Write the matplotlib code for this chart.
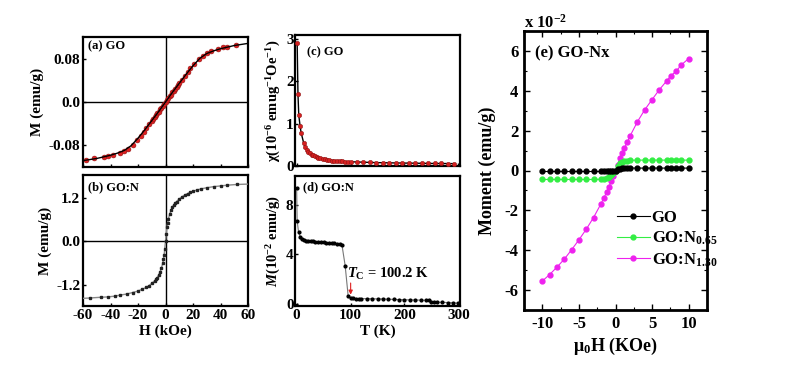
import matplotlib
matplotlib.use("Agg")
import matplotlib.pyplot as plt
from matplotlib.ticker import MultipleLocator

plt.rcParams['font.family'] = ['Liberation Serif', 'DejaVu Serif']
plt.rcParams['font.weight'] = 'bold'
plt.rcParams['axes.unicode_minus'] = False
plt.rcParams['mathtext.fontset'] = 'custom'
plt.rcParams['mathtext.rm'] = 'Liberation Serif:bold'
plt.rcParams['mathtext.it'] = 'Liberation Serif:italic:bold'
plt.rcParams['mathtext.bf'] = 'Liberation Serif:bold'

# (a) GO : M-H
H_a = [-58, -52, -45, -42, -38, -33, -30, -27, -24, -21, -18, -16, -14, -12, -10, -9, -8, -7,
       -6, -5, -4, -3, -2, -1, 0, 1, 2, 3, 4, 5, 6, 7, 8, 9, 10, 12, 14, 16, 18, 21, 24, 27,
       30, 33, 38, 42, 45, 51]
M_a = [-0.108, -0.106, -0.103, -0.101, -0.099, -0.095, -0.092, -0.088, -0.081, -0.072, -0.064,
       -0.056, -0.048, -0.042, -0.035, -0.032, -0.028, -0.025, -0.021, -0.018, -0.014, -0.011,
       -0.007, -0.004, 0.0, 0.004, 0.007, 0.011, 0.014, 0.018, 0.021, 0.025, 0.029, 0.032,
       0.035, 0.042, 0.049, 0.056, 0.064, 0.072, 0.080, 0.087, 0.092, 0.096, 0.100, 0.104,
       0.104, 0.107]
H_fit_a = [-60, -55, -50, -45, -40, -35, -30, -25, -20, -15, -10, -5, 0, 5, 10, 15, 20, 25,
           30, 35, 40, 45, 50, 55, 60]
M_fit_a = [-0.110, -0.108, -0.106, -0.103, -0.100, -0.096, -0.091, -0.082, -0.068, -0.052,
           -0.035, -0.018, 0.0, 0.018, 0.035, 0.052, 0.068, 0.082, 0.091, 0.096, 0.100,
           0.103, 0.106, 0.108, 0.110]

# (b) GO:N : M-H
H_b = [-55, -47, -42, -37, -33, -28, -24, -20, -17, -14, -12, -10, -8, -7, -6, -5, -4, -3,
       -2, -1.5, -1, -0.5, 0, 0.5, 1, 1.5, 2, 3, 4, 5, 6, 7, 8, 10, 12, 14, 16, 18, 20, 23,
       26, 30, 35, 40, 45, 52]
M_b = [-1.56, -1.54, -1.53, -1.51, -1.48, -1.45, -1.41, -1.37, -1.32, -1.27, -1.22, -1.16,
       -1.09, -1.05, -1.00, -0.93, -0.85, -0.74, -0.60, -0.50, -0.38, -0.20, 0.0, 0.20, 0.38,
       0.50, 0.60, 0.74, 0.85, 0.93, 1.00, 1.05, 1.09, 1.16, 1.22, 1.27, 1.31, 1.34, 1.37,
       1.41, 1.44, 1.47, 1.50, 1.52, 1.54, 1.56]
H_fit_b = [-60] + H_b + [60]
M_fit_b = [-1.57] + M_b + [1.57]

# (c) GO : chi-T
T_c = [1, 2.5, 4, 6.5, 8.5, 13, 16, 19, 22, 25, 28, 31, 34, 37, 40, 44, 48, 52, 56, 60, 65,
       70, 75, 80, 85, 90, 95, 100, 112, 124, 136, 148, 160, 172, 184, 196, 208, 220, 232,
       244, 256, 268, 280, 292]
chi_c = [2.92, 1.70, 1.20, 0.94, 0.78, 0.55, 0.45, 0.38, 0.33, 0.30, 0.27, 0.25, 0.23, 0.21,
         0.20, 0.185, 0.17, 0.16, 0.15, 0.14, 0.13, 0.125, 0.12, 0.115, 0.11, 0.105, 0.10,
         0.10, 0.095, 0.09, 0.085, 0.08, 0.078, 0.075, 0.072, 0.07, 0.068, 0.066, 0.064,
         0.062, 0.06, 0.06, 0.058, 0.056]

# (d) GO:N : M-T
T_d = [0, 1, 3.5, 6.5, 10, 14, 18, 22, 26, 30, 35, 40, 45, 50, 55, 60, 65, 70, 75, 80, 84,
       90, 95.5, 100, 105, 110, 115, 120, 130, 140, 150, 160, 170, 180, 190, 200, 210, 220,
       230, 240, 245, 250, 255, 260, 270, 280, 290, 300]
M_d = [9.45, 6.75, 5.85, 5.45, 5.25, 5.15, 5.12, 5.10, 5.08, 5.06, 5.04, 5.02, 5.00, 4.98,
       4.96, 4.94, 4.92, 4.90, 4.88, 4.85, 4.80, 3.10, 0.65, 0.42, 0.42, 0.41, 0.41, 0.40,
       0.40, 0.39, 0.38, 0.37, 0.35, 0.34, 0.32, 0.31, 0.30, 0.29, 0.28, 0.26, 0.25, 0.14,
       0.12, 0.11, 0.10, 0.08, 0.06, 0.03]
Tc = 100.2

# (e) GO-Nx : moment (x 1e-2 emu/g)
H_e = [-10, -9, -8, -7, -6, -5, -4, -3, -2, -1.6, -1.2, -0.9, -0.6, -0.3, 0, 0.3, 0.6, 0.9,
       1.2, 1.6, 2, 3, 4, 5, 6, 7, 7.6, 8.3, 9, 10]
M_GO = [-0.05, -0.05, -0.05, -0.05, -0.05, -0.05, -0.05, -0.05, -0.05, -0.05, -0.05, -0.04,
        -0.03, -0.02, 0.0, 0.06, 0.10, 0.11, 0.12, 0.12, 0.12, 0.12, 0.12, 0.12, 0.12, 0.12,
        0.12, 0.12, 0.12, 0.12]
M_N065 = [-0.45, -0.45, -0.45, -0.45, -0.45, -0.45, -0.45, -0.45, -0.44, -0.42, -0.38, -0.32,
          -0.24, -0.12, 0.0, 0.22, 0.36, 0.44, 0.48, 0.50, 0.51, 0.52, 0.52, 0.52, 0.52,
          0.52, 0.52, 0.52, 0.52, 0.52]
M_N130 = [-5.55, -5.22, -4.85, -4.45, -3.98, -3.48, -2.95, -2.36, -1.68, -1.38, -1.08, -0.82,
          -0.55, -0.28, 0.0, 0.30, 0.62, 0.88, 1.12, 1.42, 1.74, 2.45, 3.05, 3.56, 4.06,
          4.50, 4.76, 4.99, 5.30, 5.62]
labels_e = ['GO', 'GO:N$_{0.65}$', 'GO:N$_{1.30}$']

W, H = 799, 365
fig = plt.figure(figsize=(W / 100, H / 100), dpi=100)


def box(x0, y0, x1, y1):
    # pixel box (top-left origin) -> figure fraction rect
    return [x0 / W, 1 - y1 / H, (x1 - x0) / W, (y1 - y0) / H]


ax_a = fig.add_axes(box(83, 37, 248, 167))
ax_b = fig.add_axes(box(83, 175, 248, 306))
ax_c = fig.add_axes(box(295, 35, 460, 166))
ax_d = fig.add_axes(box(295, 176, 460, 306))
ax_e = fig.add_axes(box(524, 31, 707, 310))

for ax in (ax_a, ax_b, ax_c, ax_d):
    for s in ax.spines.values():
        s.set_linewidth(1.6)
    ax.tick_params(direction='in', length=2, width=1, labelsize=11, pad=2)

# (a)
ax_a.axhline(0, color='black', lw=1)
ax_a.axvline(0, color='black', lw=1)
ax_a.plot(H_a, M_a, 'o', color='#e02020', ms=3.5, mec='#901010', mew=0.4, zorder=3)
ax_a.plot(H_fit_a, M_fit_a, '-', color='black', lw=1, zorder=4)
ax_a.set_xlim(-60, 60)
ax_a.set_ylim(-0.122, 0.122)
ax_a.set_yticks([-0.08, 0.0, 0.08])
ax_a.set_yticklabels(['-0.08', '0.0', '0.08'])
ax_a.set_xticks([-60, -40, -20, 0, 20, 40, 60])
ax_a.set_xticklabels([])
ax_a.set_ylabel('M (emu/g)', fontsize=11, fontweight='bold', labelpad=3)
ax_a.text(0.03, 0.925, '(a) GO', transform=ax_a.transAxes, fontsize=9, fontweight='bold',
          va='center', ha='left')

# (b)
ax_b.axhline(0, color='black', lw=1)
ax_b.axvline(0, color='black', lw=1)
ax_b.plot(H_fit_b, M_fit_b, '-', color='#888888', lw=1, zorder=3)
ax_b.plot(H_b, M_b, 's', color='#222222', ms=1.8, zorder=4)
ax_b.set_xlim(-60, 60)
ax_b.set_ylim(-1.78, 1.82)
ax_b.set_yticks([-1.2, 0.0, 1.2])
ax_b.set_yticklabels(['-1.2', '0.0', '1.2'])
ax_b.set_xticks([-60, -40, -20, 0, 20, 40, 60])
ax_b.set_xlabel('H (kOe)', fontsize=11, fontweight='bold', labelpad=2)
ax_b.set_ylabel('M (emu/g)', fontsize=11, fontweight='bold', labelpad=3)
ax_b.text(0.03, 0.91, '(b) GO:N', transform=ax_b.transAxes, fontsize=9, fontweight='bold',
          va='center', ha='left')

# (c)
ax_c.plot(T_c, chi_c, '-', color='black', lw=1, zorder=3)
ax_c.plot(T_c, chi_c, 'o', color='#d42020', ms=3.2, mec='#801010', mew=0.3, zorder=4)
ax_c.set_xlim(-3, 303)
ax_c.set_ylim(0, 3.1)
ax_c.set_yticks([0, 1, 2, 3])
ax_c.set_xticks([0, 100, 200, 300])
ax_c.set_xticklabels([])
ax_c.tick_params(axis='y', pad=1)
ax_c.set_ylabel('χ(10$^{-6}$ emug$^{-1}$Oe$^{-1}$)', fontsize=10.5, fontweight='bold',
                labelpad=2)
ax_c.text(0.07, 0.87, '(c) GO', transform=ax_c.transAxes, fontsize=9, fontweight='bold',
          va='center', ha='left')

# (d)
ax_d.plot(T_d, M_d, '-', color='#777777', lw=0.8, zorder=3)
ax_d.plot(T_d, M_d, 'o', color='black', ms=2.0, zorder=4)
ax_d.set_xlim(-3, 303)
ax_d.set_ylim(-0.2, 10.4)
ax_d.set_yticks([0, 4, 8])
ax_d.set_xticks([0, 100, 200, 300])
ax_d.tick_params(axis='y', pad=1)
ax_d.set_xlabel('T (K)', fontsize=11, fontweight='bold', labelpad=2)
ax_d.set_ylabel('$M$(10$^{-2}$ emu/g)', fontsize=10.5, fontweight='bold', labelpad=2)
ax_d.text(0.05, 0.915, '(d) GO:N', transform=ax_d.transAxes, fontsize=9, fontweight='bold',
          va='center', ha='left')
ax_d.text(94, 2.45, r'$T_{\rm C}$ = %.1f K' % Tc, fontsize=10.5, fontweight='bold',
          va='center', ha='left')
ax_d.annotate('', xy=(Tc, 0.5), xytext=(Tc, 1.9),
              arrowprops=dict(arrowstyle='-|>', color='#dd2020', lw=0.8, mutation_scale=6))

# (e)
for s in ax_e.spines.values():
    s.set_linewidth(2)
ax_e.plot(H_e, M_GO, '-o', color='black', lw=0.8, ms=3.5, label=labels_e[0], zorder=4)
ax_e.plot(H_e, M_N065, '-o', color='#33ee44', lw=0.8, ms=3.5, label=labels_e[1], zorder=3)
ax_e.plot(H_e, M_N130, '-o', color='#ee22ee', lw=0.8, ms=3.5, label=labels_e[2], zorder=2)
ax_e.set_xlim(-12.5, 12.5)
ax_e.set_ylim(-7, 7)
ax_e.set_xticks([-10, -5, 0, 5, 10])
ax_e.set_yticks([-6, -4, -2, 0, 2, 4, 6])
ax_e.xaxis.set_minor_locator(MultipleLocator(2.5))
ax_e.yaxis.set_minor_locator(MultipleLocator(1))
ax_e.tick_params(which='both', direction='in', top=True, right=True, labelsize=12, pad=4)
ax_e.tick_params(which='major', length=4, width=1)
ax_e.tick_params(which='minor', length=2, width=0.8)
ax_e.set_xlabel('μ$_0$H (KOe)', fontsize=13, fontweight='bold', labelpad=3)
ax_e.set_ylabel('Moment (emu/g)', fontsize=13, fontweight='bold', labelpad=6)
ax_e.text(0.0, 1.03, 'x 10$^{-2}$', transform=ax_e.transAxes, fontsize=12, fontweight='bold',
          va='center', ha='left')
ax_e.text(0.06, 0.92, '(e) GO-Nx', transform=ax_e.transAxes, fontsize=12, fontweight='bold',
          va='center', ha='left')
ax_e.legend(loc='upper left', bbox_to_anchor=(0.46, 0.39), frameon=False,
            handlelength=2.0, handletextpad=0.1, labelspacing=0.25, borderpad=0,
            numpoints=1, prop={'weight': 'bold', 'size': 12})

fig.savefig('out.png', dpi=100, facecolor='white')
